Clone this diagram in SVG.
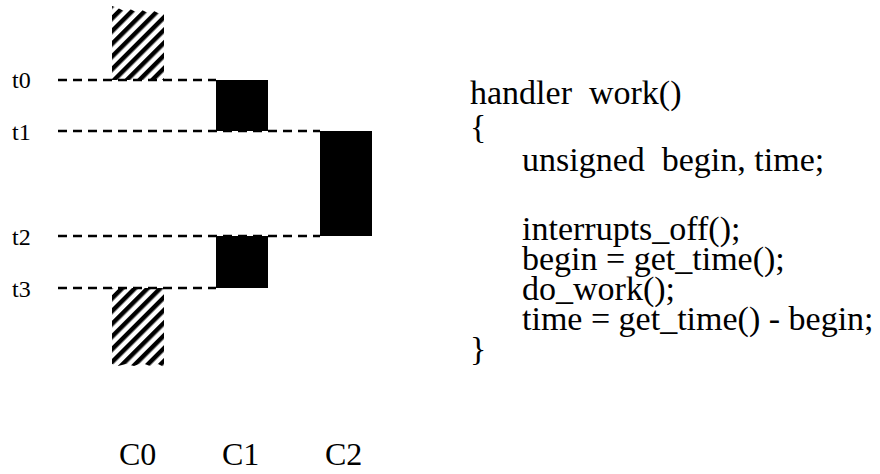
<svg xmlns="http://www.w3.org/2000/svg" width="880" height="474" viewBox="0 0 880 474">
<style>
  .lbl { font-family: "Liberation Serif", "Times New Roman", serif; fill: #000; }
  .t { font-size: 24px; }
  .c { font-size: 32px; }
  .code { font-size: 34px; white-space: pre; }
  .dash { stroke: #000; stroke-width: 2.5; stroke-dasharray: 9 6; fill: none; }
  .blk { fill: #000; }
  .hatch { fill: url(#hatch); }
</style>
<defs>
  <pattern id="hatch" patternUnits="userSpaceOnUse" width="9" height="9" patternTransform="rotate(45)">
    <rect x="0" y="0" width="9" height="9" fill="#fff"/>
    <rect x="0" y="0" width="4.5" height="9" fill="#000"/>
  </pattern>
</defs>
<rect width="880" height="474" fill="#fff"/>

<g id="c0-before">
  <path class="hatch" d="M112,6 L118,8 L124,11 L130,9 L136,12 L142,10 L148,13 L154,11 L160,14 L164,13 L164,80 L112,80 Z"/>
</g>
<g id="c0-after">
  <path class="hatch" d="M112,288 L164,288 L164,367 L158,364 L150,366 L142,363 L134,366 L126,364 L118,366 L112,364 Z"/>
</g>
<g id="c1-first">
  <rect class="blk" x="216" y="80" width="52" height="51"/>
</g>
<g id="c2">
  <rect class="blk" x="320" y="131" width="52" height="105"/>
</g>
<g id="c1-second">
  <rect class="blk" x="216" y="236" width="52" height="52"/>
</g>

<g id="connectors">
  <line class="dash" x1="58" y1="80" x2="216" y2="80"/>
  <line class="dash" x1="58" y1="131" x2="320" y2="131"/>
  <line class="dash" x1="58" y1="236" x2="320" y2="236"/>
  <line class="dash" x1="58" y1="288" x2="216" y2="288"/>
</g>

<g id="time-labels">
  <text class="lbl t" x="12" y="88">t0</text>
  <text class="lbl t" x="12" y="140">t1</text>
  <text class="lbl t" x="12" y="245">t2</text>
  <text class="lbl t" x="12" y="297">t3</text>
</g>

<g id="cpu-labels">
  <text class="lbl c" x="119" y="465">C0</text>
  <text class="lbl c" x="222" y="465">C1</text>
  <text class="lbl c" x="325" y="465">C2</text>
</g>

<g id="code">
  <text class="lbl code" x="470" y="104" xml:space="preserve">handler  work()</text>
  <text class="lbl code" x="470" y="138">{</text>
  <text class="lbl code" x="522" y="171" xml:space="preserve">unsigned  begin, time;</text>
  <text class="lbl code" x="522" y="240">interrupts_off();</text>
  <text class="lbl code" x="522" y="270">begin = get_time();</text>
  <text class="lbl code" x="522" y="300">do_work();</text>
  <text class="lbl code" x="522" y="330">time = get_time() - begin;</text>
  <text class="lbl code" x="470" y="360">}</text>
</g>
</svg>
